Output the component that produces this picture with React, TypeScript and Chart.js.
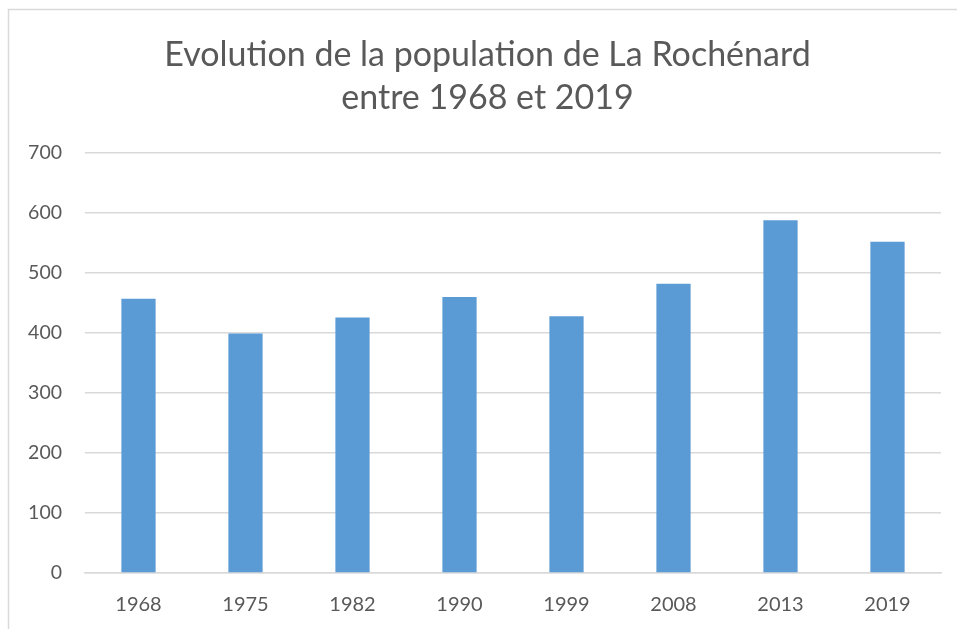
import React, { useEffect, useRef } from "react";
import { Chart, registerables } from "chart.js";

Chart.register(...registerables);

const categories = ["1968", "1975", "1982", "1990", "1999", "2008", "2013", "2019"];
const population = [457, 399, 426, 460, 428, 482, 588, 552];
const titleLines = ["Evolution de la population de La Rochénard", "entre 1968 et 2019"];
const yTicks = [0, 100, 200, 300, 400, 500, 600, 700];

const FONT = "Lato, 'Open Sans', sans-serif";

const framePlugin = {
  id: "frame",
  beforeDraw(chart: any) {
    const ctx = chart.ctx;
    ctx.save();
    ctx.fillStyle = "#ffffff";
    ctx.fillRect(0, 0, chart.width, chart.height);
    ctx.strokeStyle = "#d9d9d9";
    ctx.lineWidth = 1.5;
    ctx.strokeRect(8.5, 9.5, chart.width + 20, chart.height + 20);
    ctx.restore();
  },
  afterLayout(chart: any) {
    const t = chart.titleBlock;
    if (t) {
      t.left += 17;
      t.right += 17;
    }
  },
};

export default function App() {
  const ref = useRef<HTMLCanvasElement | null>(null);
  useEffect(() => {
    document.body.style.margin = "0";
    if (!ref.current) return;
    const chart = new Chart(ref.current, {
      type: "bar",
      data: {
        labels: categories,
        datasets: [
          {
            data: population,
            backgroundColor: "#5b9bd5",
            borderWidth: 0,
            categoryPercentage: 1,
            barPercentage: 0.32,
          },
        ],
      },
      plugins: [framePlugin],
      options: {
        animation: false,
        responsive: false,
        maintainAspectRatio: false,
        layout: { padding: { left: 0, right: 16, top: 0, bottom: 0 } },
        plugins: {
          legend: { display: false },
          tooltip: { enabled: false },
          title: {
            display: true,
            text: titleLines,
            color: "#595959",
            font: { family: FONT, size: 34, weight: "normal", lineHeight: 1.265 },
            padding: { top: 34, bottom: 33 },
          },
        },
        scales: {
          x: {
            grid: { display: false, drawTicks: false },
            border: { display: true, color: "#d9d9d9", width: 1.5 },
            ticks: {
              color: "#595959",
              font: { family: FONT, size: 20 },
              padding: 20,
            },
            afterFit(scale: any) {
              scale.height = 56;
            },
          },
          y: {
            min: 0,
            max: 700,
            afterBuildTicks(scale: any) {
              scale.ticks = yTicks.map((v) => ({ value: v }));
            },
            grid: { color: "#d9d9d9", lineWidth: 1.5, drawTicks: false },
            border: { display: false },
            ticks: {
              color: "#595959",
              font: { family: FONT, size: 19.5 },
              padding: 23,
            },
            afterFit(scale: any) {
              scale.width = 85;
            },
          },
        },
      },
    });
    return () => chart.destroy();
  }, []);
  return (
    <div style={{ width: 957, height: 629 }}>
      <canvas ref={ref} width={957} height={629} style={{ width: 957, height: 629, display: "block" }} />
    </div>
  );
}
